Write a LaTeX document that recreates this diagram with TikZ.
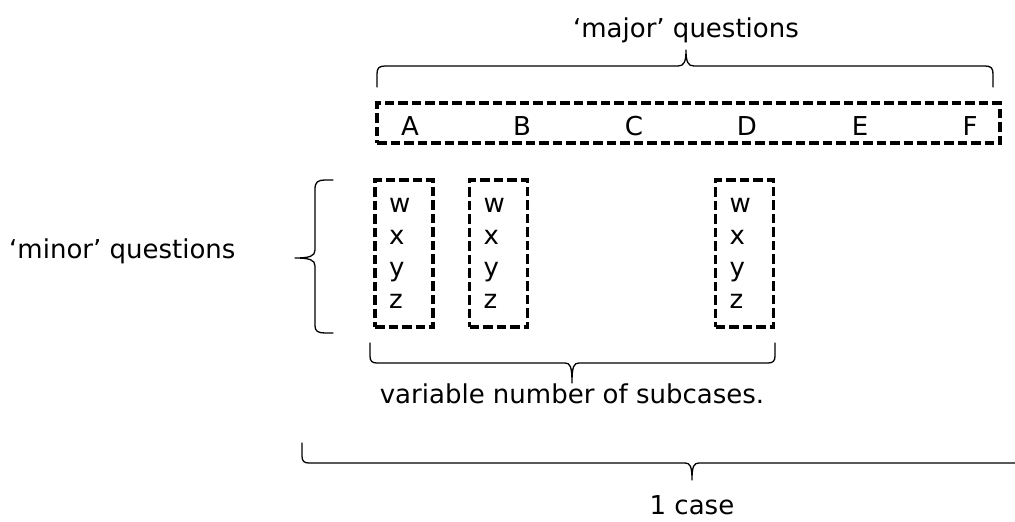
\documentclass[tikz,border=0pt]{standalone}
\usepackage{fontspec}
\setmainfont{DejaVu Sans}
\begin{document}
\begin{tikzpicture}[x=1pt,y=-1pt,
  label/.style={font=\fontsize{26}{32}\selectfont, inner sep=0pt, text=black},
  qbox/.style={draw, line width=3.4pt, dash pattern=on 9.5pt off 4pt,
    font=\fontsize{26}{32}\selectfont, inner sep=0pt},
  subbox/.style={qbox, minimum width=58pt, minimum height=147pt,
    text width=30pt, inner xsep=14pt, align=left},
  brace/.style={line width=1.3pt, line cap=round, line join=round}]
\useasboundingbox (0,0) rectangle (1015,522);
\clip (0,0) rectangle (1015,522);

% row of major questions
\node[qbox, minimum width=623pt, minimum height=40pt] (major) at (688.5,123) {};
\foreach \l/\x in {A/410,B/522,C/634,D/747,E/860,F/970}
  \node[label, anchor=base] (q\l) at (\x,135) {\l};

% subcase boxes of minor questions
\node[subbox] (s1) at (404,253.5) {w\\x\\y\\z};
\node[subbox] (s2) at (498.5,253.5) {w\\x\\y\\z};
\node[subbox] (s3) at (744.5,253.5) {w\\x\\y\\z};

% brace over the major questions
\draw[brace] (377,87) -- (377,74) .. controls (377,68) and (379,66) .. (385,66)
  -- (678,66) .. controls (684,66) and (686,62) .. (686,50)
  .. controls (686,62) and (688,66) .. (694,66) -- (985,66)
  .. controls (991,66) and (993,68) .. (993,74) -- (993,87);
\node[label, anchor=base] (majorlbl) at (686,37) {‘major’ questions};

% brace beside the minor questions
\draw[brace] (333,180) -- (325,180) .. controls (318,180) and (315,182) .. (315,189)
  -- (315,250) .. controls (315,256) and (310,258) .. (295,258)
  .. controls (310,258) and (315,260) .. (315,266) -- (315,326)
  .. controls (315,331) and (318,333) .. (325,333) -- (333,333);
\node[label, anchor=base west] (minorlbl) at (9,258) {‘minor’ questions};

% brace under the subcases
\draw[brace] (370,343) -- (370,356) .. controls (370,361) and (372,363) .. (377,363)
  -- (565,363) .. controls (570,363) and (572,366) .. (572,383)
  .. controls (572,366) and (574,363) .. (579,363) -- (768,363)
  .. controls (773,363) and (775,361) .. (775,356) -- (775,343);
\node[label, anchor=base] (sublbl) at (572,403) {variable number of subcases.};

% brace under the whole case
\draw[brace] (302,443) -- (302,456) .. controls (302,461) and (304,463) .. (309,463)
  -- (685,463) .. controls (690,463) and (692,466) .. (692,480)
  .. controls (692,466) and (694,463) .. (699,463) -- (1075,463)
  .. controls (1080,463) and (1082,461) .. (1082,456) -- (1082,443);
\node[label, anchor=base] (caselbl) at (692,514) {1 case};
\end{tikzpicture}
\end{document}
